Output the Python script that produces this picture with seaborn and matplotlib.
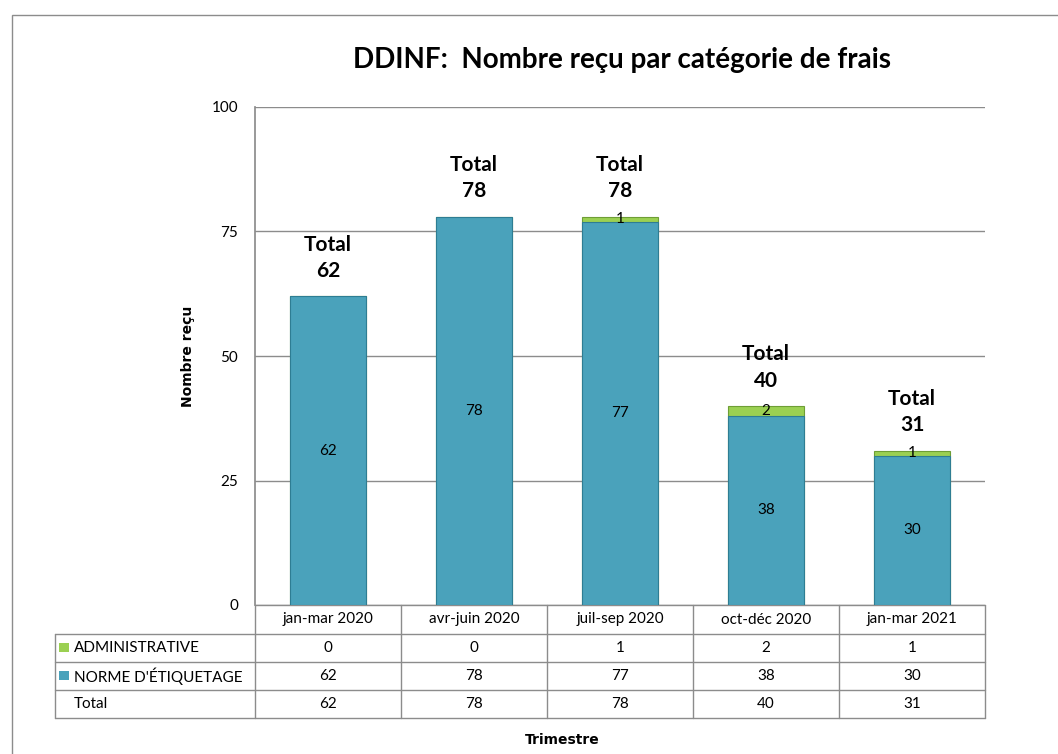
import numpy as np
import pandas as pd
import matplotlib.pyplot as plt
import seaborn as sns
from matplotlib.patches import Rectangle

trimestres = ['jan-mar 2020', 'avr-juin 2020', 'juil-sep 2020', 'oct-déc 2020', 'jan-mar 2021']
administrative = [0, 0, 1, 2, 1]
norme = [62, 78, 77, 38, 30]
totals = [a + n for a, n in zip(administrative, norme)]
series_names = ['ADMINISTRATIVE', "NORME D'ÉTIQUETAGE", 'Total']

teal = '#4AA2BB'
green = '#9BD052'
grid_c = '#8C8C8C'

sns.set_theme(style='white')
plt.rcParams['font.family'] = ['Lato', 'DejaVu Sans']
plt.rcParams['text.color'] = 'black'
plt.rcParams['axes.labelcolor'] = 'black'
plt.rcParams['ytick.color'] = 'black'

df = pd.DataFrame({'Trimestre': trimestres, 'Admin': administrative,
                   'Norme': norme, 'Total': totals})

fig = plt.figure(figsize=(10.58, 7.54), dpi=100)
ax = fig.add_axes([255 / 1058, 1 - 605 / 754, 730 / 1058, 498 / 754])

# stacked: total (green) underneath, norme (teal) drawn over it
sns.barplot(data=df, x='Trimestre', y='Total', color=green, width=0.52,
            edgecolor='#6E9E35', linewidth=0.8, saturation=1, ax=ax, zorder=2)
sns.barplot(data=df, x='Trimestre', y='Norme', color=teal, width=0.52,
            edgecolor='#2E7D93', linewidth=0.8, saturation=1, ax=ax, zorder=3)

ax.set_ylim(0, 100)
ax.set_xlim(-0.5, len(trimestres) - 0.5)
ax.set_yticks([0, 25, 50, 75, 100])
ax.yaxis.grid(True, color=grid_c, linewidth=1)
ax.set_axisbelow(True)
ax.tick_params(axis='y', labelsize=11, pad=12, length=0)
ax.set_xticks([])
ax.set_xlabel('')
ax.set_ylabel('Nombre reçu', fontsize=10, fontweight='bold', family='DejaVu Sans', labelpad=12)
for s in ['top', 'right', 'bottom']:
    ax.spines[s].set_visible(False)
ax.spines['left'].set_color(grid_c)

# value labels
for i in range(len(trimestres)):
    ax.text(i, norme[i] / 2, str(norme[i]), ha='center', va='center', fontsize=11, zorder=5)
    if administrative[i] > 0:
        ax.text(i, norme[i] + administrative[i] / 2, str(administrative[i]),
                ha='center', va='center', fontsize=11, zorder=5)
    ax.annotate(f'Total\n{totals[i]}', (i, totals[i]), xytext=(0, 11),
                textcoords='offset points', ha='center', va='bottom',
                fontsize=15, fontweight='bold', linespacing=1.4, zorder=5)

# data table below the axes
rh = 28 / 498
hh = 29 / 498
xt = ax.get_xaxis_transform()
lw = 1
lc = '#8C8C8C'
left = -0.5 - 200 / 146
n = len(trimestres)
# header row
for i in range(n):
    ax.text(i, -hh / 2, trimestres[i], transform=xt, ha='center', va='center', fontsize=11, clip_on=False)
for k in range(n + 1):
    ax.plot([k - 0.5, k - 0.5], [0, -hh - 3 * rh], transform=xt, color=lc, lw=lw, clip_on=False)
ax.plot([left, left], [-hh, -hh - 3 * rh], transform=xt, color=lc, lw=lw, clip_on=False)
for r in range(4):
    y = -hh - r * rh
    ax.plot([left, n - 0.5], [y, y], transform=xt, color=lc, lw=lw, clip_on=False)
ax.plot([-0.5, n - 0.5], [0, 0], transform=xt, color=lc, lw=lw, clip_on=False)

rows = [administrative, norme, totals]
keys = [green, teal, None]
for r in range(3):
    yc = -hh - (r + 0.5) * rh
    if keys[r]:
        ax.add_patch(Rectangle((left + 0.03, yc - 0.008), 0.065, 0.019, transform=xt,
                               facecolor=keys[r], edgecolor='none', clip_on=False))
    ax.text(left + 0.13, yc, series_names[r], transform=xt, ha='left', va='center', fontsize=11, clip_on=False)
    for i in range(n):
        ax.text(i, yc, str(rows[r][i]), transform=xt, ha='center', va='center', fontsize=11, clip_on=False)

fig.text(562 / 1058, 1 - 740 / 754, 'Trimestre', ha='center', va='center',
         fontsize=10, fontweight='bold', family='DejaVu Sans')
fig.text(622 / 1058, 1 - 60 / 754, 'DDINF:  Nombre reçu par catégorie de frais',
         ha='center', va='center', fontsize=20, fontweight='bold')

fig.add_artist(Rectangle((12 / 1058, -0.05), 1.1, 1 - 15 / 754 + 0.05, transform=fig.transFigure,
                         facecolor='none', edgecolor='#8C8C8C', linewidth=1))

fig.savefig('out.png', dpi=100)
